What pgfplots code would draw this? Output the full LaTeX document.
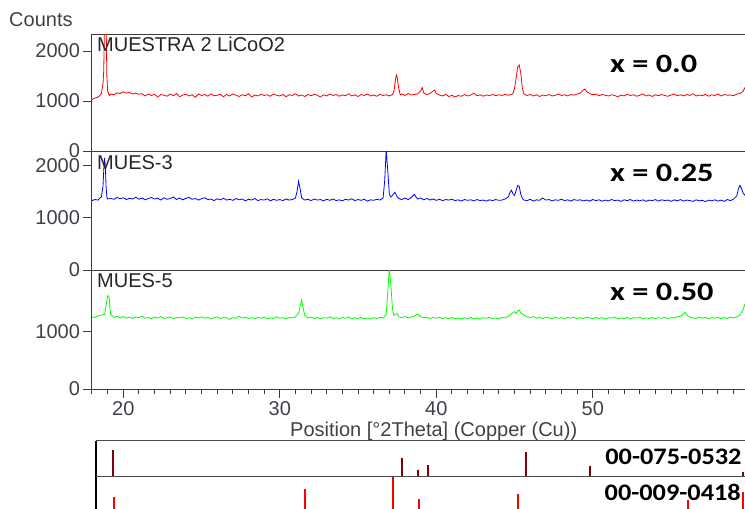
\documentclass[border=0pt]{standalone}
\usepackage{pgfplots}
\pgfplotsset{compat=1.18}
\usepackage{fontspec}
\setmainfont{Liberation Sans}
\newfontfamily\calibri{Carlito}

\definecolor{axgray}{RGB}{60,60,60}
\definecolor{lblgray}{RGB}{64,64,72}
\definecolor{stickA}{RGB}{130,0,0}
\definecolor{stickB}{RGB}{255,0,0}

\pgfplotsset{
  xrd/.style={
    scale only axis, width=657.3pt,
    xmin=18, xmax=60, ymin=0,
    axis line style={axgray, line width=1pt},
    tick style={axgray, line width=1pt},
    tick align=outside, major tick length=8.5pt, minor tick length=5pt,
    ytick pos=left, xtick=\empty,
    yticklabel style={font=\fontsize{20}{24}\selectfont, text=lblgray},
    xticklabel style={font=\fontsize{20}{24}\selectfont, text=lblgray},
    /pgf/number format/assume math mode=true,
    /pgf/number format/1000 sep={},
    scaled y ticks=false,
  },
  refp/.style={
    scale only axis, width=659.5pt, height=36.2pt,
    xmin=17.83, xmax=60, ymin=0, ymax=100,
    xtick=\empty, ytick=\empty,
    separate axis lines,
    x axis line style={black!70, line width=1pt},
    y axis line style={black, line width=1.6pt},
  },
}

\begin{document}
\begin{tikzpicture}
\useasboundingbox (0pt,0pt) rectangle (745pt,-509pt);

% x = 0.0
\begin{axis}[xrd, at={(92pt,-151pt)}, anchor=south west, height=117pt,
  ymax=2340, ytick={0,1000,2000}]
\addplot[red, line width=0.8pt] coordinates {
(18.0,1030) (18.2,1060) (18.4,1080) (18.5,1110) (18.6,1150) (18.7,1330) (18.75,1600) (18.8,2600) (18.9,2600) (18.95,1500) (19.0,1200) (19.1,1110)
(19.2,1140) (19.4,1125) (19.6,1165) (19.8,1150) (20.0,1185) (20.2,1160) (20.4,1170) (20.6,1140) (20.8,1155) (21.0,1135)
(21.2,1145) (21.4,1100) (21.6,1140) (21.8,1110) (22.0,1135) (22.2,1080) (22.4,1130) (22.6,1115) (22.8,1095) (23.0,1140)
(23.2,1105) (23.4,1150) (23.6,1085) (23.8,1120) (24.0,1135) (24.2,1100) (24.4,1125) (24.6,1075) (24.8,1140) (25.0,1110)
(25.2,1130) (25.4,1095) (25.6,1145) (25.8,1105) (26.0,1115) (26.2,1135) (26.4,1085) (26.6,1130) (26.8,1100) (27.0,1140)
(27.2,1115) (27.4,1090) (27.6,1125) (27.8,1105) (28.0,1145) (28.2,1080) (28.4,1120) (28.6,1100) (28.8,1135) (29.0,1110)
(29.2,1125) (29.4,1095) (29.6,1140) (29.8,1115) (30.0,1100) (30.2,1130) (30.4,1085) (30.6,1125) (30.8,1110) (31.0,1145)
(31.2,1100) (31.4,1120) (31.6,1090) (31.8,1130) (32.0,1105) (32.2,1135) (32.4,1115) (32.6,1080) (32.8,1125) (33.0,1100)
(33.2,1140) (33.4,1110) (33.6,1130) (33.8,1095) (34.0,1120) (34.2,1105) (34.4,1145) (34.6,1100) (34.8,1125) (35.0,1090)
(35.2,1130) (35.4,1110) (35.6,1140) (35.8,1100) (36.0,1120) (36.2,1095) (36.4,1135) (36.6,1110) (36.8,1125) (37.0,1100)
(37.2,1130) (37.3,1200) (37.4,1450) (37.45,1520) (37.5,1480) (37.6,1250) (37.7,1120) (37.8,1140) (38.0,1110) (38.2,1150)
(38.4,1120) (38.6,1130) (38.8,1140) (39.0,1200) (39.1,1270) (39.2,1160) (39.4,1130) (39.6,1150) (39.8,1200) (39.9,1220)
(40.0,1150) (40.2,1120) (40.4,1100) (40.6,1135) (40.8,1090) (41.0,1115) (41.2,1080) (41.4,1110) (41.6,1095) (41.8,1130)
(42.0,1100) (42.2,1120) (42.4,1155) (42.6,1105) (42.8,1125) (43.0,1095) (43.2,1120) (43.4,1110) (43.6,1130) (43.8,1105)
(44.0,1125) (44.2,1110) (44.4,1135) (44.6,1115) (44.8,1130) (44.9,1150) (45.0,1260) (45.1,1450) (45.2,1680) (45.3,1720)
(45.4,1550) (45.5,1250) (45.6,1140) (45.8,1110) (46.0,1130) (46.2,1100) (46.4,1125) (46.6,1090) (46.8,1120) (47.0,1105)
(47.2,1130) (47.4,1100) (47.6,1115) (47.8,1140) (48.0,1110) (48.2,1125) (48.4,1100) (48.6,1130) (48.8,1115) (49.0,1140)
(49.2,1160) (49.4,1220) (49.5,1240) (49.6,1190) (49.8,1150) (50.0,1125) (50.2,1140) (50.4,1105) (50.6,1130) (50.8,1115)
(51.0,1100) (51.2,1125) (51.4,1110) (51.6,1085) (51.8,1120) (52.0,1100) (52.2,1135) (52.4,1110) (52.6,1125) (52.8,1095)
(53.0,1115) (53.2,1140) (53.4,1100) (53.6,1120) (53.8,1090) (54.0,1125) (54.2,1105) (54.4,1130) (54.6,1110) (54.8,1095)
(55.0,1120) (55.2,1140) (55.4,1105) (55.6,1125) (55.8,1100) (56.0,1130) (56.2,1110) (56.4,1145) (56.6,1100) (56.8,1120)
(57.0,1105) (57.2,1135) (57.4,1095) (57.6,1125) (57.8,1110) (58.0,1140) (58.2,1100) (58.4,1130) (58.6,1115) (58.8,1120)
(59.0,1105) (59.2,1140) (59.4,1150) (59.6,1190) (59.7,1260) (59.8,1220) (60.0,1200)
};
\end{axis}

% x = 0.25
\begin{axis}[xrd, at={(92pt,-270pt)}, anchor=south west, height=119pt,
  ymax=2280, ytick={0,1000,2000}]
\addplot[blue, line width=0.8pt] coordinates {
(18.0,1330) (18.2,1350) (18.4,1340) (18.5,1380) (18.6,1400) (18.7,1600) (18.75,1900) (18.8,2150) (18.85,2000) (18.9,1600) (18.95,1400) (19.0,1360)
(19.2,1370) (19.4,1355) (19.6,1390) (19.8,1365) (20.0,1385) (20.2,1350) (20.4,1375) (20.6,1360) (20.8,1395) (21.0,1355)
(21.2,1380) (21.4,1345) (21.6,1370) (21.8,1390) (22.0,1360) (22.2,1375) (22.4,1340) (22.6,1385) (22.8,1355) (23.0,1370)
(23.2,1400) (23.4,1350) (23.6,1380) (23.8,1345) (24.0,1375) (24.2,1390) (24.4,1355) (24.6,1370) (24.8,1340) (25.0,1365)
(25.2,1385) (25.4,1350) (25.6,1360) (25.8,1330) (26.0,1365) (26.2,1345) (26.4,1375) (26.6,1340) (26.8,1355) (27.0,1335)
(27.2,1370) (27.4,1345) (27.6,1360) (27.8,1325) (28.0,1355) (28.2,1340) (28.4,1370) (28.6,1330) (28.8,1350) (29.0,1340)
(29.2,1365) (29.4,1325) (29.6,1355) (29.8,1335) (30.0,1350) (30.2,1330) (30.4,1360) (30.6,1340) (30.8,1350) (31.0,1380)
(31.1,1500) (31.2,1700) (31.3,1550) (31.4,1380) (31.6,1340) (31.8,1355) (32.0,1330) (32.2,1360) (32.4,1340) (32.6,1350)
(32.8,1325) (33.0,1355) (33.2,1335) (33.4,1360) (33.6,1330) (33.8,1345) (34.0,1325) (34.2,1355) (34.4,1340) (34.6,1365)
(34.8,1330) (35.0,1350) (35.2,1335) (35.4,1355) (35.6,1320) (35.8,1345) (36.0,1335) (36.2,1355) (36.4,1340) (36.6,1380)
(36.7,1700) (36.8,2300) (36.9,1900) (37.0,1450) (37.1,1400) (37.2,1430) (37.35,1490) (37.5,1400) (37.6,1370) (37.8,1350)
(38.0,1380) (38.2,1350) (38.4,1390) (38.6,1450) (38.7,1400) (38.8,1360) (39.0,1380) (39.2,1345) (39.4,1370) (39.6,1340)
(39.8,1360) (40.0,1335) (40.2,1355) (40.4,1330) (40.6,1350) (40.8,1340) (41.0,1355) (41.2,1330) (41.4,1345) (41.6,1320)
(41.8,1350) (42.0,1335) (42.2,1345) (42.4,1325) (42.6,1350) (42.8,1330) (43.0,1340) (43.2,1320) (43.4,1345) (43.6,1330)
(43.8,1350) (44.0,1335) (44.2,1340) (44.4,1360) (44.6,1400) (44.7,1480) (44.8,1530) (44.9,1460) (45.0,1430) (45.1,1520)
(45.2,1620) (45.3,1600) (45.4,1450) (45.5,1370) (45.6,1340) (45.8,1330) (46.0,1355) (46.2,1320) (46.4,1345) (46.6,1335)
(46.8,1380) (47.0,1340) (47.2,1350) (47.4,1325) (47.6,1345) (47.8,1335) (48.0,1355) (48.2,1330) (48.4,1345) (48.6,1320)
(48.8,1350) (49.0,1335) (49.2,1345) (49.4,1325) (49.6,1340) (49.8,1320) (50.0,1350) (50.2,1330) (50.4,1345) (50.6,1320)
(50.8,1340) (51.0,1325) (51.2,1350) (51.4,1330) (51.6,1340) (51.8,1315) (52.0,1345) (52.2,1330) (52.4,1350) (52.6,1320)
(52.8,1340) (53.0,1325) (53.2,1345) (53.4,1315) (53.6,1340) (53.8,1330) (54.0,1350) (54.2,1320) (54.4,1345) (54.6,1330)
(54.8,1340) (55.0,1315) (55.2,1345) (55.4,1325) (55.6,1350) (55.8,1320) (56.0,1340) (56.2,1330) (56.4,1315) (56.6,1345)
(56.8,1325) (57.0,1335) (57.2,1310) (57.4,1340) (57.6,1325) (57.8,1345) (58.0,1320) (58.2,1340) (58.4,1315) (58.6,1350)
(58.8,1330) (59.0,1360) (59.2,1420) (59.3,1550) (59.4,1620) (59.5,1560) (59.6,1480) (59.8,1400) (60.0,1370)
};
\end{axis}

% x = 0.50
\begin{axis}[xrd, at={(92pt,-389pt)}, anchor=south west, height=118.5pt,
  ymax=2068, ytick={0,1000},
  xtick={20,30,40,50}, minor xtick={18,19,...,60}, xtick pos=bottom]
\addplot[green, line width=0.8pt] coordinates {
(18.0,1260) (18.2,1250) (18.4,1280) (18.6,1290) (18.8,1300) (18.9,1450) (19.0,1630) (19.1,1600) (19.15,1400) (19.2,1300)
(19.4,1250) (19.6,1270) (19.8,1240) (20.0,1265) (20.2,1235) (20.4,1255) (20.6,1230) (20.8,1260) (21.0,1245) (21.2,1270)
(21.4,1235) (21.6,1250) (21.8,1225) (22.0,1255) (22.2,1240) (22.4,1265) (22.6,1230) (22.8,1245) (23.0,1255) (23.2,1225)
(23.4,1250) (23.6,1240) (23.8,1260) (24.0,1230) (24.2,1245) (24.4,1220) (24.6,1255) (24.8,1240) (25.0,1260) (25.2,1235)
(25.4,1250) (25.6,1225) (25.8,1245) (26.0,1260) (26.2,1230) (26.4,1250) (26.6,1240) (26.8,1215) (27.0,1245) (27.2,1235)
(27.4,1270) (27.6,1240) (27.8,1250) (28.0,1230) (28.2,1245) (28.4,1225) (28.6,1250) (28.8,1235) (29.0,1255) (29.2,1225)
(29.4,1240) (29.6,1230) (29.8,1260) (30.0,1235) (30.2,1245) (30.4,1225) (30.6,1250) (30.8,1240) (31.0,1260) (31.2,1320)
(31.3,1450) (31.4,1550) (31.5,1400) (31.6,1280) (31.8,1240) (32.0,1255) (32.2,1230) (32.4,1250) (32.6,1225) (32.8,1245)
(33.0,1235) (33.2,1260) (33.4,1230) (33.6,1245) (33.8,1220) (34.0,1250) (34.2,1235) (34.4,1255) (34.6,1225) (34.8,1245)
(35.0,1230) (35.2,1250) (35.4,1225) (35.6,1240) (35.8,1220) (36.0,1245) (36.2,1230) (36.4,1250) (36.6,1240) (36.8,1300)
(36.9,1700) (37.0,2100) (37.1,1800) (37.2,1400) (37.3,1280) (37.5,1320) (37.6,1260) (37.8,1245) (38.0,1265) (38.2,1240)
(38.4,1255) (38.6,1270) (38.8,1310) (39.0,1260) (39.2,1245) (39.4,1255) (39.6,1230) (39.8,1250) (40.0,1235) (40.2,1255)
(40.4,1225) (40.6,1245) (40.8,1230) (41.0,1250) (41.2,1225) (41.4,1240) (41.6,1220) (41.8,1245) (42.0,1230) (42.2,1250)
(42.4,1225) (42.6,1240) (42.8,1220) (43.0,1245) (43.2,1235) (43.4,1250) (43.6,1230) (43.8,1240) (44.0,1225) (44.2,1250)
(44.4,1240) (44.6,1270) (44.8,1310) (45.0,1350) (45.1,1320) (45.2,1360) (45.3,1380) (45.4,1330) (45.6,1290) (45.8,1260)
(46.0,1245) (46.2,1265) (46.4,1235) (46.6,1250) (46.8,1230) (47.0,1255) (47.2,1240) (47.4,1225) (47.6,1250) (47.8,1235)
(48.0,1245) (48.2,1220) (48.4,1250) (48.6,1235) (48.8,1255) (49.0,1225) (49.2,1245) (49.4,1230) (49.6,1255) (49.8,1240)
(50.0,1225) (50.2,1250) (50.4,1230) (50.6,1245) (50.8,1220) (51.0,1245) (51.2,1235) (51.4,1255) (51.6,1225) (51.8,1240)
(52.0,1230) (52.2,1250) (52.4,1220) (52.6,1245) (52.8,1235) (53.0,1255) (53.2,1225) (53.4,1240) (53.6,1230) (53.8,1250)
(54.0,1225) (54.2,1245) (54.4,1235) (54.6,1250) (54.8,1230) (55.0,1245) (55.2,1240) (55.4,1260) (55.6,1270) (55.8,1310)
(55.9,1345) (56.0,1290) (56.2,1255) (56.4,1240) (56.6,1230) (56.8,1255) (57.0,1235) (57.2,1250) (57.4,1225) (57.6,1245)
(57.8,1235) (58.0,1250) (58.2,1225) (58.4,1245) (58.6,1230) (58.8,1255) (59.0,1240) (59.2,1260) (59.4,1290) (59.6,1380)
(59.7,1470) (59.8,1420) (60.0,1380)
};
\end{axis}

% reference patterns
\begin{axis}[refp, at={(96pt,-476.7pt)}, anchor=south west]
\addplot[ycomb, mark=none, draw=stickA, line width=2pt] coordinates {
(18.90,75) (37.42,52) (38.44,18) (39.08,31) (45.31,68) (49.42,29) (59.19,12)
};
\end{axis}
\begin{axis}[refp, at={(96pt,-476.7pt)}, anchor=north west]
\addplot[ycomb, mark=none, draw=stickB, line width=2pt] coordinates {
(18.99,45) (31.20,66) (36.84,100) (38.50,38) (44.80,52) (55.66,36) (59.22,59)
};
\end{axis}

% texts
\node[anchor=base west, text=lblgray, font=\fontsize{20}{24}\selectfont, inner sep=0pt] at (9pt,-26pt) {Counts};
\node[anchor=base west, text=black!85, font=\fontsize{20}{24}\selectfont, inner sep=0pt] at (97pt,-51.7pt) {MUESTRA 2 LiCoO2};
\node[anchor=base west, text=black!85, font=\fontsize{20}{24}\selectfont, inner sep=0pt] at (97pt,-169pt) {MUES-3};
\node[anchor=base west, text=black!85, font=\fontsize{20}{24}\selectfont, inner sep=0pt] at (97pt,-287.7pt) {MUES-5};
\node[anchor=base west, text=lblgray, font=\fontsize{20}{24}\selectfont, inner sep=0pt] at (290pt,-436.7pt) {Position [°2Theta] (Copper (Cu))};
\node[anchor=base west, xscale=1.22, font=\calibri\bfseries\fontsize{26.5}{30}\selectfont, inner sep=0pt] at (610pt,-72.7pt) {x = 0.0};
\node[anchor=base west, xscale=1.22, font=\calibri\bfseries\fontsize{26.5}{30}\selectfont, inner sep=0pt] at (610pt,-181.7pt) {x = 0.25};
\node[anchor=base west, xscale=1.22, font=\calibri\bfseries\fontsize{26.5}{30}\selectfont, inner sep=0pt] at (610pt,-300pt) {x = 0.50};
\node[anchor=base east, xscale=1.11, font=\calibri\bfseries\fontsize{23.7}{28}\selectfont, inner sep=0pt] at (741.7pt,-464pt) {00-075-0532};
\node[anchor=base east, xscale=1.11, font=\calibri\bfseries\fontsize{23.7}{28}\selectfont, inner sep=0pt] at (741pt,-500pt) {00-009-0418};
\end{tikzpicture}
\end{document}
